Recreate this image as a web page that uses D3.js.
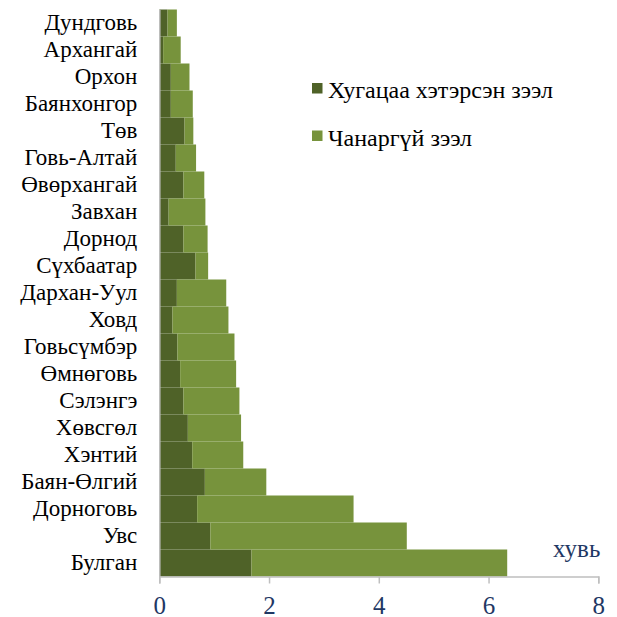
<!DOCTYPE html>
<html><head><meta charset="utf-8">
<script src="https://cdn.jsdelivr.net/npm/d3@7"></script>
<style>body{margin:0;background:#fff}svg{display:block}</style>
</head><body>
<svg id="c" width="617" height="617"></svg>
<script>
const categories = ["Дундговь","Архангай","Орхон","Баянхонгор","Төв","Говь-Алтай","Өвөрхангай","Завхан","Дорнод","Сүхбаатар","Дархан-Уул","Ховд","Говьсүмбэр","Өмнөговь","Сэлэнгэ","Хөвсгөл","Хэнтий","Баян-Өлгий","Дорноговь","Увс","Булган"];
const overdue = [0.15,0.07,0.21,0.21,0.46,0.30,0.44,0.17,0.44,0.66,0.32,0.24,0.33,0.38,0.44,0.52,0.60,0.83,0.69,0.93,1.68];
const nonperforming = [0.17,0.32,0.34,0.40,0.16,0.37,0.38,0.67,0.44,0.23,0.90,1.02,1.04,1.02,1.02,0.97,0.93,1.12,2.85,3.58,4.66];
const seriesNames = ["Хугацаа хэтэрсэн зээл","Чанаргүй зээл"];
const colors = ["#4F6228","#77933C"];
const xTicks = [0,2,4,6,8];
const unitLabel = "хувь";

const FONT = "'Liberation Serif','Times New Roman',serif";
const svg = d3.select("#c");
const m = {left:159.3, right:598.3, top:9.5, bottom:576.5};
const x = d3.scaleLinear().domain([0,8]).range([m.left, m.right]);
const y = d3.scaleBand().domain(categories).range([m.top, m.bottom]).padding(0);

const rows = categories.map((c,i)=>({cat:c, a:overdue[i], b:nonperforming[i]}));
const stack = d3.stack().keys(["a","b"])(rows);

svg.append("g").selectAll("g").data(stack).join("g")
  .attr("fill",(d,i)=>colors[i])
  .selectAll("rect").data(d=>d).join("rect")
  .attr("x",d=>x(d[0]))
  .attr("width",d=>x(d[1])-x(d[0]))
  .attr("y",d=>y(d.data.cat))
  .attr("height",y.bandwidth());

// x axis
const xa = svg.append("g").attr("transform",`translate(0,${m.bottom})`)
  .call(d3.axisBottom(x).tickValues(xTicks).tickSize(7).tickFormat(d3.format("d")));
xa.attr("font-family",null);
xa.select(".domain").attr("stroke","#bfbfbf").attr("stroke-width",1.5);
xa.selectAll(".tick line").attr("stroke","#bfbfbf").attr("stroke-width",1.5);
xa.selectAll(".tick text").style("font-family",FONT).style("font-size","25px")
  .attr("fill","#1F3864").attr("dy","0").attr("y",37);

// y axis
const ya = svg.append("g").attr("transform",`translate(${m.left},0)`)
  .call(d3.axisLeft(y).tickSize(0).tickPadding(22));
ya.attr("font-family",null);
ya.select(".domain").attr("stroke","#bfbfbf").attr("stroke-width",1.5);
ya.selectAll(".tick text").style("font-family",FONT).style("font-size","23px")
  .attr("fill","#000");

// unit label
svg.append("text").attr("x",x(8)+2).attr("y",557).attr("text-anchor","end")
  .style("font-family",FONT).style("font-size","25px").attr("fill","#1F3864")
  .text(unitLabel);

// legend
const lg = svg.append("g");
seriesNames.forEach((s,i)=>{
  const yy = 83 + i*47.5;
  lg.append("rect").attr("x",312).attr("y",yy).attr("width",10.5).attr("height",10.5).attr("fill",colors[i]);
  lg.append("text").attr("x",328).attr("y",yy+15).style("font-family",FONT)
    .style("font-size","24px").attr("fill","#000").text(s);
});
</script>
</body></html>
